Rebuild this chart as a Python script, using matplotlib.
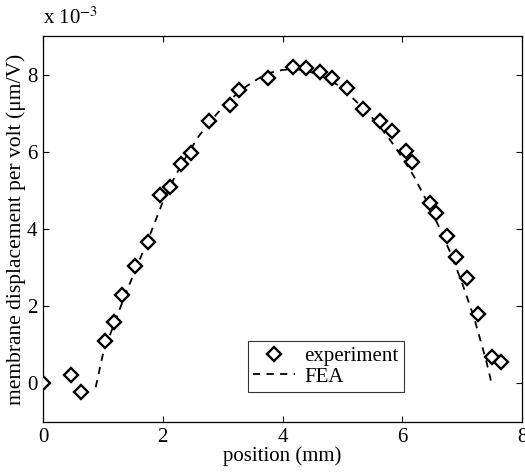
import numpy as np
import matplotlib
matplotlib.use('Agg')
import matplotlib.pyplot as plt

# measured membrane displacement per volt (x 1e-3 um/V) vs position (mm)
exp_x = [0, 0.46, 0.63, 1.03, 1.18, 1.32, 1.54, 1.76, 1.95, 2.12, 2.3, 2.47,
         2.78, 3.12, 3.28, 3.76, 4.17, 4.4, 4.62, 4.82, 5.08, 5.35, 5.63, 5.83,
         6.06, 6.17, 6.46, 6.57, 6.74, 6.9, 7.08, 7.27, 7.5, 7.65]
exp_y = [0.02, 0.23, -0.21, 1.09, 1.6, 2.29, 3.03, 3.67, 4.88, 5.08, 5.68, 5.98,
         6.8, 7.2, 7.6, 7.9, 8.2, 8.17, 8.06, 7.92, 7.65, 7.12, 6.79, 6.55,
         6.01, 5.73, 4.68, 4.42, 3.82, 3.28, 2.74, 1.8, 0.68, 0.55]

# finite element result
fea_x = [0.88, 1.0, 1.2, 1.4, 1.6, 1.8, 2.0, 2.2, 2.4, 2.6, 2.8, 3.0, 3.2, 3.4,
         3.6, 3.8, 4.0, 4.2, 4.4, 4.6, 4.8, 5.0, 5.2, 5.4, 5.6, 5.8, 6.0, 6.2,
         6.4, 6.6, 6.8, 7.0, 7.2, 7.4, 7.5]
fea_y = [-0.1, 0.75, 1.6, 2.4, 3.15, 3.9, 4.7, 5.35, 5.9, 6.4, 6.8, 7.15, 7.45,
         7.7, 7.9, 8.05, 8.12, 8.15, 8.1, 8.0, 7.85, 7.65, 7.35, 7.05, 6.7, 6.3,
         5.85, 5.35, 4.75, 4.1, 3.4, 2.6, 1.7, 0.6, -0.05]

xticks = [0, 2, 4, 6, 8]
yticks = [0, 2, 4, 6, 8]

plt.rcParams['font.family'] = ['Liberation Serif', 'DejaVu Serif']
plt.rcParams['mathtext.fontset'] = 'stix'

fig = plt.figure(figsize=(5.25, 4.72), dpi=100)
ax = fig.add_axes([43/525, 1 - 422/472, 479/525, 386/472])

ax.plot(exp_x, exp_y, 'D', ms=7.5, mfc='white', mec='black', mew=1.7,
        ls='none', label='experiment', zorder=3)
ax.plot(fea_x, fea_y, '--', color='black', lw=1.3, dashes=(4, 3.5),
        label='FEA', zorder=2)

ax.set_xlim(0, 8)
ax.set_ylim(-1, 9)
ax.set_xticks(xticks)
ax.set_yticks(yticks)
ax.tick_params(direction='in', top=True, right=True, labelsize=15,
               length=4, width=0.8, pad=4)
for s in ax.spines.values():
    s.set_linewidth(0.9)

ax.set_xlabel('position (mm)', fontsize=15, labelpad=0)
ax.set_ylabel('membrane displacement per volt (\u03bcm/V)', fontsize=15.5,
              labelpad=1)
fig.text(43/525, 1 - 18/472, r'x 10$^{-3}$', fontsize=15, va='center')

leg = ax.legend(loc='lower left', bbox_to_anchor=(0.428, 0.078),
                borderaxespad=0, fancybox=False, edgecolor='black',
                fontsize=15, handlelength=2.0, borderpad=0.25,
                labelspacing=0.05, handletextpad=0.45)
leg.get_frame().set_linewidth(0.8)

fig.savefig('out.png', dpi=100)
